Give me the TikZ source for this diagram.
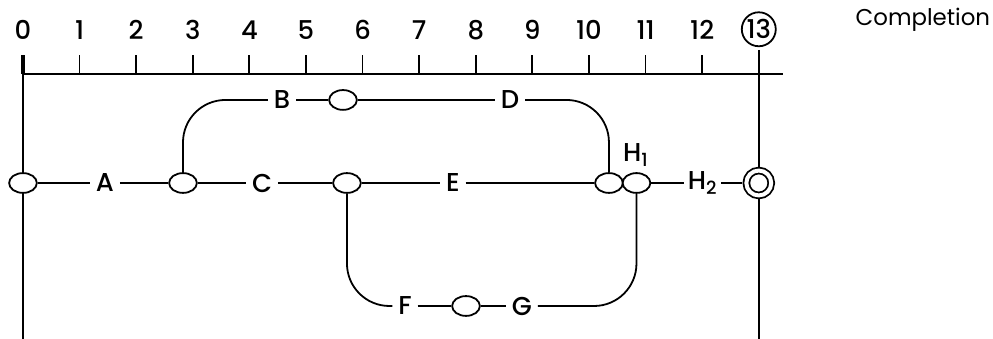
\documentclass[tikz,border=0pt]{standalone}
\usepackage{fontspec}
\setmainfont{Poppins}
\newfontfamily\labelfont{Poppins Medium}
\usepackage{tikz}
\usetikzlibrary{shapes.geometric}

\begin{document}
\begin{tikzpicture}[line width=0.9pt,every node/.style={font=\labelfont\fontsize{13}{15}\selectfont,inner sep=2pt},event/.style={ellipse,draw,fill=white,minimum width=0.49cm,minimum height=0.35cm,inner sep=0pt},finish/.style={circle,draw,fill=white,double,double distance=2pt,minimum size=0.44cm,inner sep=0pt,outer sep=2pt},act/.style={inner sep=2.5pt}]
\useasboundingbox (-0.406,-4.682) rectangle (17.138,1.307);
% time scale
\draw (0,0) -- (13.42,0);
\draw[line width=1.6pt] (0,0) -- (0,0.336);
\draw (0,0.336) -- (0,-4.682);
\draw (13,0.424) -- (13,-4.682);
\node (t0) at (0,0.777) {0};
\draw (1,0) -- (1,0.336); \node (t1) at (1,0.777) {1};
\draw (2,0) -- (2,0.336); \node (t2) at (2,0.777) {2};
\draw (3,0) -- (3,0.336); \node (t3) at (3,0.777) {3};
\draw (4,0) -- (4,0.336); \node (t4) at (4,0.777) {4};
\draw (5,0) -- (5,0.336); \node (t5) at (5,0.777) {5};
\draw (6,0) -- (6,0.336); \node (t6) at (6,0.777) {6};
\draw (7,0) -- (7,0.336); \node (t7) at (7,0.777) {7};
\draw (8,0) -- (8,0.336); \node (t8) at (8,0.777) {8};
\draw (9,0) -- (9,0.336); \node (t9) at (9,0.777) {9};
\draw (10,0) -- (10,0.336); \node (t10) at (10,0.777) {10};
\draw (11,0) -- (11,0.336); \node (t11) at (11,0.777) {11};
\draw (12,0) -- (12,0.336); \node (t12) at (12,0.777) {12};
\node[circle,draw,minimum size=0.6cm,inner sep=0pt] (t13) at (13,0.79) {13};
\node[font=\rmfamily\fontsize{11.5}{14}\selectfont] (done) at (15.9,0.95) {Completion};
% events
\node[event] (e0) at (0,-1.926) {};
\node[event] (e1) at (2.827,-1.926) {};
\node[event] (e2) at (5.724,-1.926) {};
\node[event] (e3) at (10.353,-1.926) {};
\node[event] (e4) at (10.839,-1.926) {};
\node[finish] (e5) at (13,-1.926) {};
\node[event] (eB) at (5.654,-0.459) {};
\node[event] (eF) at (7.827,-4.099) {};
% activities
\node[act] (lA) at (1.449,-1.926) {A};
\node[act] (lC) at (4.223,-1.926) {C};
\node[act] (lE) at (7.597,-1.926) {E};
\node[act] (lB) at (4.576,-0.459) {B};
\node[act] (lD) at (8.604,-0.459) {D};
\node[act] (lF) at (6.749,-4.099) {F};
\node[act] (lG) at (8.816,-4.099) {G};
\node[act] (lH1) at (10.83,-1.43) {H\textsubscript{1}};
\node[act,inner sep=1.5pt] (lH2) at (12.01,-1.926) {H\textsubscript{2}};
\draw (e0) -- (lA) -- (e1) -- (lC) -- (e2) -- (lE) -- (e3);
\draw (e4) -- (lH2) -- (e5);
\draw[rounded corners=0.75cm] (e1) |- (lB);
\draw (lB) -- (eB) -- (lD);
\draw[rounded corners=0.75cm] (lD) -| (e3);
\draw[rounded corners=0.75cm] (e2) |- (lF);
\draw (lF) -- (eF) -- (lG);
\draw[rounded corners=0.75cm] (lG) -| (e4);
\end{tikzpicture}
\end{document}
